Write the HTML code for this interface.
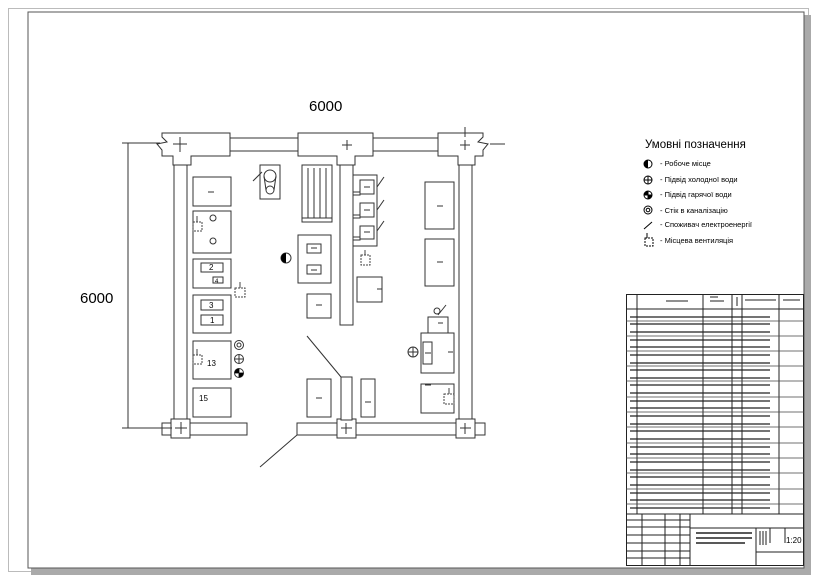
<!DOCTYPE html>
<html><head><meta charset="utf-8"><style>
html,body{margin:0;padding:0;background:#fff}
svg{display:block}
text{font-family:"Liberation Sans",sans-serif;fill:#000}
</style></head><body>
<svg width="819" height="580" viewBox="0 0 819 580" xmlns="http://www.w3.org/2000/svg">
<rect x="0" y="0" width="819" height="580" fill="#fff"/>
<rect x="8.5" y="8.5" width="800" height="563" fill="none" stroke="#bbb" stroke-width="1"/>
<rect x="31" y="15" width="780" height="560" fill="#aaa"/>
<rect x="28" y="12" width="776" height="556" fill="#fff" stroke="#555" stroke-width="1"/>
<g fill="#fff" stroke="#333" stroke-width="1">
<!-- walls -->
<rect x="230" y="138" width="68" height="13"/>
<rect x="373" y="138" width="65" height="13"/>
<path d="M162,133 H230 V156 H191 V165 H173 V156 H162 V150 L157,144 L167,142 L162,137 Z"/>
<rect x="174" y="165" width="13" height="255"/>
<path d="M298,133 H373 V156 H355 V165 H337 V156 H298 Z"/>
<rect x="340" y="165" width="13" height="160"/>
<path d="M438,133 H483 V137 L478,142 L488,144 L483,150 V156 H475 V165 H458 V156 H438 Z"/>
<rect x="459" y="165" width="13" height="255"/>
<rect x="190" y="423" width="57" height="12"/>
<rect x="297" y="423" width="160" height="12"/>
<rect x="475" y="423" width="10" height="12"/>
<rect x="162" y="423" width="10" height="12"/>
<rect x="171" y="419" width="19" height="19"/>
<rect x="337" y="419" width="19" height="19"/>
<rect x="456" y="419" width="19" height="19"/>
<rect x="341" y="377" width="11" height="43"/>
<!-- left equipment -->
<rect x="193" y="177" width="38" height="29"/>
<rect x="193" y="211" width="38" height="42"/>
<rect x="193" y="259" width="38" height="29"/>
<rect x="201" y="263" width="22" height="9"/>
<rect x="213" y="277" width="10" height="6"/>
<rect x="193" y="295" width="38" height="38"/>
<rect x="201" y="300" width="22" height="10"/>
<rect x="201" y="315" width="22" height="10"/>
<rect x="193" y="341" width="38" height="38"/>
<rect x="193" y="388" width="38" height="29"/>
<rect x="260" y="165" width="20" height="34"/>
<rect x="302" y="165" width="30" height="57"/>
<rect x="298" y="235" width="33" height="48"/>
<rect x="307" y="244" width="14" height="9"/>
<rect x="307" y="265" width="14" height="9"/>
<rect x="307" y="294" width="24" height="24"/>
<path d="M353,175 H377 V246 H353 V240 H360 V237 H353 V218 H360 V215 H353 V195 H360 V192 H353 Z"/>
<rect x="360" y="180" width="14" height="14"/>
<rect x="360" y="203" width="14" height="14"/>
<rect x="360" y="226" width="14" height="13"/>
<rect x="357" y="277" width="25" height="25"/>
<rect x="425" y="182" width="29" height="47"/>
<rect x="425" y="239" width="29" height="47"/>
<rect x="428" y="317" width="20" height="16"/>
<rect x="421" y="333" width="33" height="40"/>
<rect x="423" y="342" width="9" height="22"/>
<rect x="421" y="384" width="33" height="29"/>
<rect x="307" y="379" width="24" height="38"/>
<rect x="361" y="379" width="14" height="38"/>
</g>
<g stroke="#333" stroke-width="1" fill="none">
<!-- radiator lines -->
<line x1="308" y1="168" x2="308" y2="218"/><line x1="314" y1="168" x2="314" y2="218"/><line x1="320" y1="168" x2="320" y2="218"/><line x1="326" y1="168" x2="326" y2="218"/>
<line x1="302" y1="218" x2="332" y2="218"/>
<circle cx="270" cy="176" r="6"/><circle cx="270" cy="190" r="4"/>
<line x1="264" y1="176" x2="266" y2="190"/><line x1="276" y1="176" x2="274" y2="190"/>
<line x1="253" y1="181" x2="262" y2="172"/>
<line x1="377" y1="187" x2="384" y2="177"/><line x1="377" y1="210" x2="384" y2="200"/><line x1="377" y1="231" x2="384" y2="221"/>
<line x1="438" y1="315" x2="446" y2="305"/>
<!-- door -->
<line x1="307" y1="336" x2="341" y2="377"/>
<line x1="297" y1="435" x2="260" y2="467"/>
<!-- crosses -->
<path d="M173,144 H187 M180,137 V152"/>
<path d="M342,145 H352 M347,140 V150"/>
<path d="M460,145 H470 M465,140 V150 M465,127 V137"/>
<path d="M175,428 H187 M181,422 V434 M155,428 H172"/>
<path d="M341,428 H352 M346,423 V434"/>
<path d="M460,428 H471 M465,423 V434"/>
<line x1="490" y1="144" x2="505" y2="144"/>
<!-- dashes -->
<path d="M208,192 H214 M311,248 H317 M311,270 H317 M316,305 H322 M364,187 H370 M364,210 H370 M364,232 H370 M377,289 H382 M437,206 H443 M437,262 H443 M448,352 H453 M425,353 H431 M316,398 H322 M365,402 H371 M425,385 H431 M438,323 H443"/>
<!-- dimension -->
<line x1="128" y1="143" x2="128" y2="428"/>
<line x1="122" y1="143" x2="160" y2="143"/>
<line x1="122" y1="428" x2="160" y2="428"/>
<!-- circles small -->
<circle cx="213" cy="218" r="3"/><circle cx="213" cy="241" r="3"/>
<circle cx="239" cy="345" r="4.5"/><circle cx="239" cy="345" r="2"/>
<circle cx="239" cy="359" r="4.5"/><path d="M234.5,359 H243.5 M239,354.5 V363.5"/>
<circle cx="239" cy="373" r="4.5"/><path d="M234.5,373 H243.5 M239,368.5 V377.5"/>
<circle cx="413" cy="352" r="5"/><path d="M408,352 H418 M413,347 V357"/>
<circle cx="437" cy="311" r="3"/>
<circle cx="286" cy="258" r="5"/>
</g>
<path d="M239,373 V368.5 A4.5,4.5 0 0 0 234.5,373 Z M239,373 H243.5 A4.5,4.5 0 0 1 239,377.5 Z" fill="#000"/>
<path d="M286,253 A5,5 0 0 0 286,263 Z" fill="#000"/>
<!-- vent boxes -->
<g fill="none" stroke="#444" stroke-width="1">
<rect x="193" y="222" width="9" height="9" stroke-dasharray="2,1"/><line x1="197" y1="216" x2="197" y2="222"/>
<rect x="235" y="288" width="10" height="9" stroke-dasharray="2,1"/><line x1="240" y1="282" x2="240" y2="288"/>
<rect x="361" y="255" width="9" height="10" stroke-dasharray="2,1"/><line x1="365" y1="250" x2="365" y2="255"/>
<rect x="193" y="355" width="9" height="9" stroke-dasharray="2,1"/><line x1="197" y1="349" x2="197" y2="355"/>
<rect x="444" y="394" width="10" height="10" stroke-dasharray="2,1"/><line x1="449" y1="388" x2="449" y2="394"/>
</g>
<g font-size="8">
<text x="209" y="270">2</text><text x="215" y="283" font-size="6">4</text>
<text x="209" y="308">3</text><text x="210" y="323">1</text>
<text x="207" y="366">13</text><text x="199" y="401">15</text>
</g>
<text x="309" y="111" font-size="15">6000</text>
<text x="80" y="303" font-size="15">6000</text>
<!-- legend -->
<text x="645" y="148" font-size="11.5">Умовні позначення</text>
<g font-size="7.5">
<text x="660" y="166">- Робоче місце</text>
<text x="660" y="182">- Підвід холодної води</text>
<text x="660" y="197">- Підвід гарячої води</text>
<text x="660" y="213">- Стік в каналізацію</text>
<text x="660" y="227">- Споживач електроенергії</text>
<text x="660" y="243">- Місцева вентиляція</text>
</g>
<g stroke="#000" fill="none">
<circle cx="648" cy="164" r="4"/><circle cx="648" cy="180" r="4"/><path d="M644,180 H652 M648,176 V184"/>
<circle cx="648" cy="195" r="4"/><path d="M644,195 H652 M648,191 V199"/>
<circle cx="648" cy="210" r="4"/><circle cx="648" cy="210" r="1.8"/>
<line x1="644" y1="229" x2="652" y2="222"/>
<rect x="645" y="238" width="8" height="8" stroke-dasharray="2,1"/><line x1="647" y1="233" x2="647" y2="238"/>
</g>
<path d="M648,160 A4,4 0 0 0 648,168 Z M648,195 V191 A4,4 0 0 0 644,195 Z M648,195 H652 A4,4 0 0 1 648,199 Z" fill="#000"/>
<!-- title block -->
<g stroke="#222" fill="none" stroke-width="1">
<rect x="626.5" y="294.5" width="177" height="271"/>
<path d="M637,294 V514 M703,294 V514 M732,294 V514 M742,294 V514 M779,294 V514"/>
<path d="M626,309 H804"/>
<path d="M626,514 H804 M690,514 V566 M642,514 V566 M665,514 V566 M680,514 V566 M690,528 H804 M756,528 V566 M770,528 V543 M785,528 V543 M756,552 H804 M626,520 H690 M626,527 H690 M626,535 H690 M626,543 H690 M626,551 H690 M626,558 H690"/>
<path d="M696,533 H752 M696,538 H752 M696,543 H745" stroke-width="1.5"/>
<path d="M760,531 V545 M763,531 V545 M766,531 V545"/>
<path d="M666,301 H688 M710,297 H718 M710,301 H724 M737,297 V306 M745,300 H776 M783,300 H800"/>
</g>
<g stroke="#222" stroke-width="1.2">
<path d="M630,317 H770 M630,324 H770 M630,332 H770 M630,340 H770 M630,347 H770 M630,355 H770 M630,363 H770 M630,370 H770 M630,378 H770 M630,385 H770 M630,393 H770 M630,401 H770 M630,408 H770 M630,416 H770 M630,424 H770 M630,431 H770 M630,439 H770 M630,447 H770 M630,454 H770 M630,462 H770 M630,470 H770 M630,477 H770 M630,485 H770 M630,493 H770 M630,500 H770 M630,508 H770"/>
</g>
<g stroke="#444" stroke-width="0.8">
<path d="M626,321 H804 M626,336 H804 M626,351 H804 M626,366 H804 M626,381 H804 M626,397 H804 M626,412 H804 M626,427 H804 M626,443 H804 M626,458 H804 M626,473 H804 M626,489 H804 M626,504 H804"/>
</g>
<text x="786" y="543" font-size="8">1:20</text>
</svg>
</body></html>
